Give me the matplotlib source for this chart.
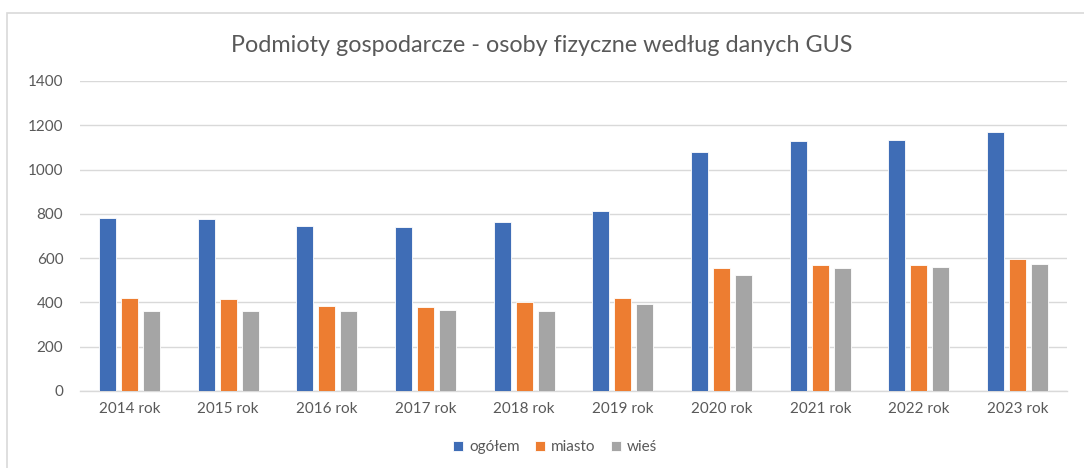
import numpy as np
import matplotlib.pyplot as plt
from matplotlib.patches import Rectangle

plt.rcParams['font.family'] = ['Lato', 'DejaVu Sans']

# Data
years = ['2014 rok', '2015 rok', '2016 rok', '2017 rok', '2018 rok',
         '2019 rok', '2020 rok', '2021 rok', '2022 rok', '2023 rok']
ogolem = [783, 779, 744, 741, 765, 813, 1080, 1127, 1135, 1169]
miasto = [420, 416, 383, 378, 402, 420, 557, 569, 569, 595]
wies = [361, 361, 361, 364, 361, 392, 524, 557, 560, 573]

series = [('ogółem', ogolem, '#3F6DB6'),
          ('miasto', miasto, '#ED7D31'),
          ('wieś', wies, '#A5A5A5')]

W, H = 1084, 468
fig = plt.figure(figsize=(W / 100, H / 100), dpi=100)
ax = fig.add_axes([80 / W, (H - 391) / H, (1067 - 80) / W, (391 - 81) / H])

x = np.arange(len(years))
step = 0.223
width = 0.172
for i, (name, vals, col) in enumerate(series):
    ax.bar(x + (i - 1) * step, vals, width, color=col, label=name,
           edgecolor='white', linewidth=0.6, zorder=3)

ax.set_xlim(-0.5, len(years) - 0.5)
ax.set_ylim(0, 1400)
ax.set_yticks(range(0, 1401, 200))
ax.set_xticks(x)
ax.set_xticklabels(years)
ax.grid(axis='y', color='#D9D9D9', linewidth=1, zorder=0)
for s in ['top', 'right', 'left']:
    ax.spines[s].set_visible(False)
ax.spines['bottom'].set_color('#D9D9D9')
ax.spines['bottom'].set_linewidth(1)
ax.tick_params(axis='both', length=0, labelsize=11, labelcolor='#595959')
ax.tick_params(axis='y', pad=12)
ax.tick_params(axis='x', pad=8)

fig.text(0.5, (H - 45) / H, 'Podmioty gospodarcze - osoby fizyczne według danych GUS',
         ha='center', va='center', fontsize=16.8, color='#595959')

fig.legend(loc='center', bbox_to_anchor=(555 / W, (H - 447) / H), ncol=3,
           frameon=False, fontsize=11, handlelength=0.65, handleheight=0.65,
           handletextpad=0.4, columnspacing=1.0, labelcolor='#595959')

# chart border (left and top edges visible)
fig.patches.append(Rectangle((7 / W, -0.1), 1.2, (H - 13) / H + 0.1,
                             transform=fig.transFigure, fill=False,
                             edgecolor='#D9D9D9', linewidth=1.2))

fig.savefig('out.png', dpi=100)
